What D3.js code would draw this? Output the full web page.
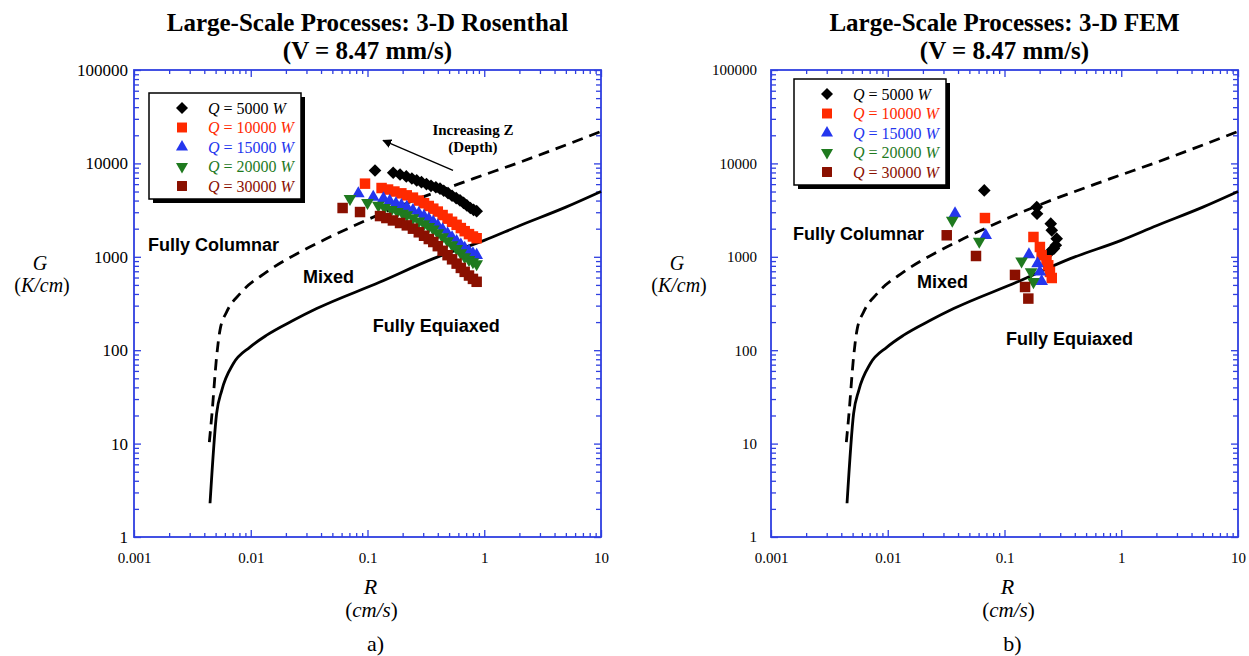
<!DOCTYPE html>
<html>
<head>
<meta charset="utf-8">
<script src="https://cdn.jsdelivr.net/npm/d3@7"></script>
<style>
  body { margin: 0; background: #fff; }
  svg { display: block; }
</style>
</head>
<body>
<div id="charts"></div>
<script>
const width = 1249;
const height = 656;
const plot = {w: 467, top: 70, bottom: 537};
const serif = '"Liberation Serif", "Times New Roman", serif';
const sans = '"Liberation Sans", Arial, sans-serif';
const axisColor = '#2f3fe0';

// CET boundaries, [R (cm/s), G (K/cm)]
const columnarLine = [
    [0.00442, 10.4], [0.00463, 19.4], [0.0051, 85], [0.00545, 164], [0.00622, 257],
    [0.0081, 404], [0.0137, 688], [0.0264, 1123], [0.0447, 1566], [0.166, 3275],
    [0.806, 6860], [2.02, 10300], [10, 22000]
];
const equiaxedLine = [
    [0.00448, 2.3], [0.0051, 21], [0.00564, 37], [0.0071, 72], [0.00986, 108],
    [0.0137, 145], [0.0232, 209], [0.0367, 279], [0.128, 537], [0.366, 956],
    [1, 1500], [2, 2150], [5, 3400], [10, 5000]
];

const powers = ['5000', '10000', '15000', '20000', '30000'];
const colors = ['#000000', '#ff2a00', '#2436ee', '#1f7a1f', '#8a1000'];
const shapes = ['diamond', 'square', 'triangle', 'triangleDown', 'square'];

// 3-D Rosenthal solutions
const ros5000 = [
    [0.116, 8400], [0.166, 7950], [0.19, 7600], [0.215, 7250], [0.24, 6900], [0.264, 6580],
    [0.29, 6300], [0.32, 6000], [0.35, 5750], [0.385, 5550], [0.418, 5360], [0.45, 5100],
    [0.49, 4800], [0.53, 4500], [0.575, 4250], [0.62, 4020], [0.665, 3780], [0.71, 3550],
    [0.76, 3330], [0.81, 3180], [0.861, 3080]
];
const ros10000 = [
    [0.0952, 6070], [0.132, 5450], [0.15, 5250], [0.17, 5000], [0.195, 4780], [0.217, 4550],
    [0.245, 4300], [0.275, 4000], [0.305, 3750], [0.335, 3500], [0.366, 3275], [0.4, 3050],
    [0.44, 2800], [0.485, 2560], [0.53, 2370], [0.58, 2200], [0.63, 2030], [0.68, 1880],
    [0.74, 1750], [0.8, 1650], [0.861, 1580]
];
const ros15000 = [
    [0.0834, 4740], [0.112, 4360], [0.137, 4190], [0.155, 3950], [0.175, 3720], [0.195, 3550],
    [0.217, 3400], [0.245, 3150], [0.275, 2920], [0.305, 2720], [0.335, 2530], [0.366, 2355],
    [0.4, 2160], [0.44, 1960], [0.485, 1770], [0.53, 1610], [0.58, 1460], [0.63, 1340],
    [0.68, 1240], [0.74, 1150], [0.8, 1080], [0.861, 1040]
];
const ros20000 = [
    [0.0708, 4190], [0.1, 3800], [0.124, 3550], [0.14, 3350], [0.16, 3200], [0.18, 3050],
    [0.2, 2920], [0.217, 2800], [0.245, 2600], [0.275, 2400], [0.305, 2250], [0.335, 2100],
    [0.366, 1980], [0.4, 1800], [0.44, 1630], [0.485, 1480], [0.53, 1340], [0.58, 1220],
    [0.63, 1100], [0.68, 1000], [0.74, 930], [0.8, 880], [0.861, 840]
];
const ros30000 = [
    [0.0612, 3330], [0.0863, 3015], [0.128, 2730], [0.145, 2600], [0.165, 2450], [0.19, 2300],
    [0.217, 2170], [0.245, 2000], [0.275, 1830], [0.305, 1680], [0.335, 1550], [0.366, 1440],
    [0.4, 1300], [0.44, 1160], [0.485, 1040], [0.53, 940], [0.58, 845], [0.63, 760],
    [0.68, 690], [0.74, 630], [0.8, 580], [0.861, 540]
];

// 3-D FEM solutions
const fem5000 = [
    [0.0671, 5140], [0.189, 3405], [0.19, 2890], [0.249, 2265], [0.254, 1920],
    [0.28, 1565], [0.275, 1330], [0.265, 1225], [0.245, 1125]
];
const fem10000 = [
    [0.068, 2600], [0.177, 1630], [0.201, 1273], [0.208, 1038], [0.229, 918],
    [0.237, 811], [0.245, 688], [0.254, 593]
];
const fem15000 = [[0.0377, 2900], [0.069, 1700], [0.162, 1055], [0.192, 845], [0.201, 690], [0.208, 547]];
const fem20000 = [[0.0357, 2450], [0.0608, 1465], [0.14, 900], [0.169, 690], [0.177, 540]];
const fem30000 = [[0.032, 1700], [0.057, 1020], [0.123, 640], [0.15, 475], [0.16, 357]];

const xMajor = [0.001, 0.01, 0.1, 1, 10];
const yMajor = [1, 10, 100, 1000, 10000, 100000];

// region labels, anchored in data coordinates
const rosNotes = [
    {text: 'Fully Columnar', r: 0.00132, g: 1145},
    {text: 'Mixed', r: 0.028, g: 521},
    {text: 'Fully Equiaxed', r: 0.111, g: 156}
];
const femNotes = [
    {text: 'Fully Columnar', r: 0.00154, g: 1500},
    {text: 'Mixed', r: 0.0178, g: 460},
    {text: 'Fully Equiaxed', r: 0.103, g: 113}
];
const depthArrow = {from: [0.54, 8410], to: [0.136, 17600], label: ['Increasing Z', '(Depth)'], r: 0.8, g: [19950, 13120]};

const panels = [
    {x0: 134, title: 'Large-Scale Processes: 3-D Rosenthal', tag: 'a)',
     series: [ros5000, ros10000, ros15000, ros20000, ros30000], notes: rosNotes, arrow: depthArrow,
     legend: {dx: 15, dy: 23}, yTick: {size: 17, pad: 6}},
    {x0: 771, title: 'Large-Scale Processes: 3-D FEM', tag: 'b)',
     series: [fem5000, fem10000, fem15000, fem20000, fem30000], notes: femNotes, arrow: null,
     legend: {dx: 23, dy: 9}, yTick: {size: 15, pad: 14}}
];

const symbolSpec = {
    diamond: {type: d3.symbolSquare, size: 80, rotate: 45},
    square: {type: d3.symbolSquare, size: 110, rotate: 0},
    triangle: {type: d3.symbolTriangle, size: 70, rotate: 0},
    triangleDown: {type: d3.symbolTriangle, size: 70, rotate: 180}
};

/**
 * Axis frame with inward ticks on all four sides, labels on bottom and left.
 */
function drawAxes(g, x, y, cfg) {
    const xMinor = x.ticks().filter(d => !xMajor.includes(d));
    const yMinor = y.ticks().filter(d => !yMajor.includes(d));
    const x1 = cfg.x0 + plot.w;

    const styleAxis = (sel) => {
        sel.select('.domain').remove();
        sel.selectAll('line').attr('stroke', axisColor).attr('stroke-width', 1.3);
        sel.selectAll('text').attr('fill', '#000').style('font-family', serif);
    };

    const sides = [
        {make: () => d3.axisBottom(x), tr: `translate(0,${plot.bottom})`, major: xMajor, minor: xMinor, label: true},
        {make: () => d3.axisTop(x), tr: `translate(0,${plot.top})`, major: xMajor, minor: xMinor, label: false},
        {make: () => d3.axisLeft(y), tr: `translate(${cfg.x0},0)`, major: yMajor, minor: yMinor, label: true},
        {make: () => d3.axisRight(y), tr: `translate(${x1},0)`, major: yMajor, minor: yMinor, label: false}
    ];
    sides.forEach((s, i) => {
        const isY = i >= 2;
        g.append('g').attr('transform', s.tr)
            .call(s.make().tickValues(s.minor).tickSize(isY ? -5 : -4).tickFormat(''))
            .call(styleAxis);
        const ax = g.append('g').attr('transform', s.tr)
            .call(s.make().tickValues(s.major).tickSize(-7)
                .tickPadding(isY ? cfg.yTick.pad : 15)
                .tickFormat(s.label ? (d => String(d)) : ''))
            .call(styleAxis);
        ax.selectAll('text').style('font-size', (isY ? cfg.yTick.size : 15) + 'px');
    });

    g.append('rect')
        .attr('x', cfg.x0).attr('y', plot.top)
        .attr('width', plot.w).attr('height', plot.bottom - plot.top)
        .attr('fill', 'none').attr('stroke', axisColor).attr('stroke-width', 1.8);
}

function drawLegend(g, cfg) {
    const lx = cfg.x0 + cfg.legend.dx;
    const ly = plot.top + cfg.legend.dy;
    const lw = 152, lh = 106;
    g.append('rect').attr('x', lx + 4).attr('y', ly + 4).attr('width', lw).attr('height', lh).attr('fill', '#000');
    g.append('rect').attr('x', lx).attr('y', ly).attr('width', lw).attr('height', lh)
        .attr('fill', '#fff').attr('stroke', '#000').attr('stroke-width', 1.5);

    powers.forEach((p, i) => {
        const cy = ly + 15 + i * 19.5;
        const spec = symbolSpec[shapes[i]];
        g.append('path')
            .attr('d', d3.symbol(spec.type, spec.size * 0.9)())
            .attr('fill', colors[i])
            .attr('transform', `translate(${lx + 33},${cy}) rotate(${spec.rotate})`);
        const t = g.append('text')
            .attr('x', lx + 59).attr('y', cy).attr('dy', '0.35em')
            .attr('fill', colors[i])
            .style('font-family', serif).style('font-size', '16px');
        t.append('tspan').style('font-style', 'italic').text('Q');
        t.append('tspan').text(` = ${p} `);
        t.append('tspan').style('font-style', 'italic').text('W');
    });
}

function buildPanel(svg, cfg) {
    const x = d3.scaleLog().domain([0.001, 10]).range([cfg.x0, cfg.x0 + plot.w]);
    const y = d3.scaleLog().domain([1, 100000]).range([plot.bottom, plot.top]);
    const cx = cfg.x0 + plot.w / 2;
    const g = svg.append('g');

    // Title
    [cfg.title, '(V = 8.47 mm/s)'].forEach((txt, k) => {
        g.append('text')
            .attr('x', cx).attr('y', k === 0 ? 31 : 58.5)
            .attr('text-anchor', 'middle')
            .style('font-family', serif).style('font-weight', 'bold').style('font-size', '25px')
            .text(txt);
    });

    drawAxes(g, x, y, cfg);

    // Axis titles
    g.append('text').attr('x', cfg.x0 - 94).attr('y', 270).attr('text-anchor', 'middle')
        .style('font-family', serif).style('font-size', '20px').style('font-style', 'italic').text('G');
    const gu = g.append('text').attr('x', cfg.x0 - 92).attr('y', 292).attr('text-anchor', 'middle')
        .style('font-family', serif).style('font-size', '20px');
    gu.append('tspan').text('(');
    gu.append('tspan').style('font-style', 'italic').text('K/cm');
    gu.append('tspan').text(')');

    g.append('text').attr('x', cx + 3).attr('y', 594).attr('text-anchor', 'middle')
        .style('font-family', serif).style('font-size', '22px').style('font-style', 'italic').text('R');
    const ru = g.append('text').attr('x', cx + 4).attr('y', 617).attr('text-anchor', 'middle')
        .style('font-family', serif).style('font-size', '21px');
    ru.append('tspan').text('(');
    ru.append('tspan').style('font-style', 'italic').text('cm/s');
    ru.append('tspan').text(')');
    g.append('text').attr('x', cx + 8).attr('y', 651).attr('text-anchor', 'middle')
        .style('font-family', serif).style('font-size', '22px').text(cfg.tag);

    // Boundary curves
    const line = d3.line().x(d => x(d[0])).y(d => y(d[1])).curve(d3.curveMonotoneX);
    g.append('path').attr('d', line(columnarLine))
        .attr('fill', 'none').attr('stroke', '#000').attr('stroke-width', 2.8)
        .attr('stroke-dasharray', '11,7');
    g.append('path').attr('d', line(equiaxedLine))
        .attr('fill', 'none').attr('stroke', '#000').attr('stroke-width', 2.8);

    // Region labels
    cfg.notes.forEach(n => {
        g.append('text').attr('x', x(n.r)).attr('y', y(n.g))
            .style('font-family', sans).style('font-weight', 'bold').style('font-size', '18px')
            .text(n.text);
    });

    // Data points
    cfg.series.forEach((data, i) => {
        const spec = symbolSpec[shapes[i]];
        g.append('g')
            .selectAll('path')
            .data(data)
            .enter().append('path')
            .attr('d', d3.symbol(spec.type, spec.size)())
            .attr('transform', d => `translate(${x(d[0])},${y(d[1])}) rotate(${spec.rotate})`)
            .attr('fill', colors[i]);
    });

    if (cfg.arrow) {
        const a = cfg.arrow;
        svg.append('defs').append('marker')
            .attr('id', 'arrowhead').attr('viewBox', '0 0 10 10')
            .attr('refX', 9).attr('refY', 5)
            .attr('markerWidth', 9).attr('markerHeight', 9).attr('markerUnits', 'userSpaceOnUse')
            .attr('orient', 'auto')
            .append('path').attr('d', 'M0,0 L10,5 L0,10 Z').attr('fill', '#000');
        g.append('line')
            .attr('x1', x(a.from[0])).attr('y1', y(a.from[1]))
            .attr('x2', x(a.to[0])).attr('y2', y(a.to[1]))
            .attr('stroke', '#000').attr('stroke-width', 1.4)
            .attr('marker-end', 'url(#arrowhead)');
        a.label.forEach((txt, k) => {
            g.append('text').attr('x', x(a.r)).attr('y', y(a.g[k])).attr('text-anchor', 'middle')
                .style('font-family', serif).style('font-weight', 'bold').style('font-size', '15px')
                .text(txt);
        });
    }

    drawLegend(g, cfg);
}

const svg = d3.select('#charts').append('svg')
    .attr('width', width).attr('height', height)
    .style('background', '#fff');
panels.forEach(cfg => buildPanel(svg, cfg));
</script>
</body>
</html>
